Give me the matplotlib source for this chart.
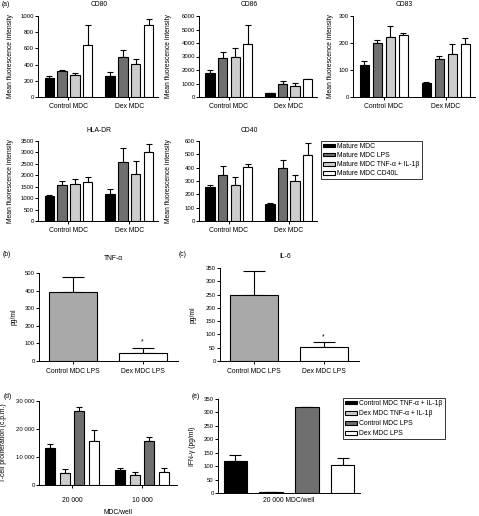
import numpy as np
import matplotlib.pyplot as plt
from matplotlib.patches import Patch

plt.rcParams['font.family'] = ['Liberation Sans', 'DejaVu Sans']
plt.rcParams['axes.linewidth'] = 0.7

# ---- data ----
groups_a = ['Control MDC', 'Dex MDC']
maturation = ['Mature MDC', 'Mature MDC LPS', 'Mature MDC TNF-\u03b1 + IL-1\u03b2', 'Mature MDC CD40L']

cd80_mean = [[240, 320, 275, 640], [260, 495, 405, 885]]
cd80_err = [[25, 8, 25, 250], [50, 80, 60, 80]]
cd86_mean = [[1750, 2900, 2950, 3950], [280, 950, 780, 1330]]
cd86_err = [[250, 450, 700, 1400], [50, 250, 230, 0]]
cd83_mean = [[120, 200, 222, 228], [53, 140, 160, 198]]
cd83_err = [[15, 12, 40, 8], [2, 12, 37, 20]]
hladr_mean = [[1080, 1580, 1640, 1720], [1180, 2580, 2040, 3010]]
hladr_err = [[60, 150, 200, 200], [230, 600, 580, 380]]
cd40_mean = [[258, 345, 270, 405], [128, 398, 300, 495]]
cd40_err = [[12, 70, 60, 25], [8, 60, 45, 90]]

groups_bc = ['Control MDC LPS', 'Dex MDC LPS']
tnf_mean = [390, 48]
tnf_err = [90, 28]
il6_mean = [250, 52]
il6_err = [88, 20]

cells_per_well = ['20 000', '10 000']
coculture = ['Control MDC TNF-\u03b1 + IL-1\u03b2', 'Dex MDC TNF-\u03b1 + IL-1\u03b2',
             'Control MDC LPS', 'Dex MDC LPS']
prolif_mean = [[13300, 4300, 26600, 15700], [5200, 3700, 15600, 4600]]
prolif_err = [[1200, 1500, 1200, 3800], [900, 900, 1700, 1600]]
ifng_mean = [120, 3, 320, 103]
ifng_err = [20, 1, 2, 27]

# ---- styling ----
W, H = 479, 516
BLACK, DARK, LIGHT, WHITE, MID = '#000000', '#6f6f6f', '#cdcdcd', '#ffffff', '#a9a9a9'
colors_a = [BLACK, DARK, LIGHT, WHITE]
colors_d = [BLACK, LIGHT, DARK, WHITE]
TICK_FS, LAB_FS = 4.3, 4.9

fig = plt.figure(figsize=(W / 100, H / 100), dpi=100)


def px_axes(x0, y0, x1, y1):
    ax = fig.add_axes([x0 / W, 1 - y1 / H, (x1 - x0) / W, (y1 - y0) / H])
    ax.spines['top'].set_visible(False)
    ax.spines['right'].set_visible(False)
    ax.tick_params(axis='y', labelsize=TICK_FS, length=2, width=0.7, pad=1)
    ax.tick_params(axis='x', labelsize=LAB_FS, length=2, width=0.7, pad=2)
    return ax


def grouped(ax, means, errs, colors, width, step, cap):
    means = np.array(means)
    errs = np.array(errs)
    x = np.arange(means.shape[0])
    offs = (np.arange(means.shape[1]) - (means.shape[1] - 1) / 2) * step
    for i in range(means.shape[1]):
        ax.errorbar(x + offs[i], means[:, i], yerr=[np.zeros(len(x)), errs[:, i]],
                    fmt='none', ecolor='black', elinewidth=0.8, capsize=cap,
                    capthick=0.8, zorder=1)
        ax.bar(x + offs[i], means[:, i], width, color=colors[i],
               edgecolor='black', linewidth=0.8, zorder=2)
    return x


def fig_text(x, y, s, size=LAB_FS, **kw):
    fig.text(x / W, 1 - y / H, s, fontsize=size, ha='center', va='center', **kw)


# ---- panel (a) ----
panels_a = [
    ('CD80', cd80_mean, cd80_err, (38, 16, 158, 97), 1000, 200, 14, (99, 5)),
    ('CD86', cd86_mean, cd86_err, (199, 16, 317, 97), 6000, 1000, 172, (249, 5)),
    ('CD83', cd83_mean, cd83_err, (353, 16, 475, 97), 300, 100, 334, (404, 5)),
    ('HLA-DR', hladr_mean, hladr_err, (38, 141, 158, 221), 3500, 500, 14, (99, 131)),
    ('CD40', cd40_mean, cd40_err, (199, 141, 317, 221), 600, 100, 172, (249, 131)),
]
for name, m, e, box, top, stp, ylx, tpos in panels_a:
    ax = px_axes(*box)
    x = grouped(ax, m, e, colors_a, 0.155, 0.21, 2.5)
    ax.set_ylim(0, top)
    ax.set_yticks(np.arange(0, top + 1, stp))
    ax.set_xlim(-0.5, 1.47)
    ax.set_xticks(x)
    ax.set_xticklabels(groups_a)
    ax.set_ylabel('Mean fluorescence intensity', fontsize=LAB_FS)
    ax.yaxis.set_label_coords((ylx - box[0]) / (box[2] - box[0]), 0.5)
    fig_text(*tpos, name)

handles = [Patch(facecolor=c, edgecolor='black', linewidth=0.8) for c in colors_a]
fig.legend(handles, maturation, loc='upper left', bbox_to_anchor=(321 / W, 1 - 141 / H),
           fontsize=LAB_FS, frameon=True, fancybox=False, edgecolor='black',
           handlelength=1.8, handleheight=0.45, handletextpad=0.3, labelspacing=0.3,
           borderpad=0.3, borderaxespad=0).get_frame().set_linewidth(0.7)
fig_text(6, 5, '(a)')

# ---- panels (b) and (c) ----
for name, m, e, box, top, stp, ylx, tpos, lab, lpos in [
        ('TNF-\u03b1', tnf_mean, tnf_err, (39, 273, 178, 361), 500, 100, 18, (113, 258), '(b)', (7, 255)),
        ('IL-6', il6_mean, il6_err, (220, 268, 359, 361), 350, 50, 197, (285, 257), '(c)', (183, 255))]:
    ax = px_axes(*box)
    x = np.arange(2)
    ax.errorbar(x, m, yerr=[[0, 0], e], fmt='none', ecolor='black', elinewidth=0.8,
                capsize=8, capthick=0.8, zorder=1)
    ax.bar(x, m, 0.69, color=[MID, WHITE], edgecolor='black', linewidth=0.8, zorder=2)
    ax.set_ylim(0, top)
    ax.set_yticks(np.arange(0, top + 1, stp))
    ax.set_xlim(-0.49, 1.51)
    ax.set_xticks(x)
    ax.set_xticklabels(groups_bc)
    ax.tick_params(axis='x', pad=3)
    ax.set_ylabel('pg/ml', fontsize=LAB_FS)
    ax.yaxis.set_label_coords((ylx - box[0]) / (box[2] - box[0]), 0.5)
    ax.text(1, m[1] + e[1] + top * 0.02, '*', fontsize=LAB_FS, ha='center', va='bottom')
    fig_text(*tpos, name)
    fig_text(*lpos, lab)

# ---- panel (d) ----
ax = px_axes(39, 401, 177, 485)
x = grouped(ax, prolif_mean, prolif_err, colors_d, 0.143, 0.21, 2.5)
ax.set_ylim(0, 30000)
ax.set_yticks([0, 10000, 20000, 30000])
ax.set_yticklabels(['0', '10 000', '20 000', '30 000'])
ax.set_xlim(-0.47, 1.5)
ax.set_xticks(x)
ax.set_xticklabels(cells_per_well)
ax.tick_params(axis='x', pad=7)
ax.set_ylabel('T-cell proliferation (c.p.m.)', fontsize=LAB_FS)
ax.yaxis.set_label_coords((7 - 39) / (177 - 39), 0.5)
fig_text(118, 512, 'MDC/well')
fig_text(8, 397, '(d)')

# ---- panel (e) ----
ax = px_axes(218, 399, 360, 493)
xe = np.arange(4) - 1.5
ax.errorbar(xe, ifng_mean, yerr=[np.zeros(4), ifng_err], fmt='none', ecolor='black',
            elinewidth=0.8, capsize=4.5, capthick=0.8, zorder=1)
ax.bar(xe, ifng_mean, 0.67, color=colors_d, edgecolor='black', linewidth=0.8, zorder=2)
ax.set_ylim(0, 350)
ax.set_yticks(np.arange(0, 351, 50))
ax.set_xlim(-1.99, 1.99)
ax.set_xticks([0])
ax.set_xticklabels(['20 000 MDC/well'])
ax.tick_params(axis='x', length=0, pad=3)
ax.set_ylabel('IFN-\u03b3 (pg/ml)', fontsize=LAB_FS)
ax.yaxis.set_label_coords((196 - 218) / (360 - 218), 0.5)
fig_text(196, 396, '(e)')
handles = [Patch(facecolor=c, edgecolor='black', linewidth=0.8) for c in colors_d]
fig.legend(handles, coculture, loc='upper left', bbox_to_anchor=(343 / W, 1 - 398 / H),
           fontsize=LAB_FS, frameon=True, fancybox=False, edgecolor='black',
           handlelength=1.8, handleheight=0.45, handletextpad=0.3, labelspacing=0.45,
           borderpad=0.3, borderaxespad=0).get_frame().set_linewidth(0.7)

fig.savefig('out.png', dpi=100, facecolor='white')
